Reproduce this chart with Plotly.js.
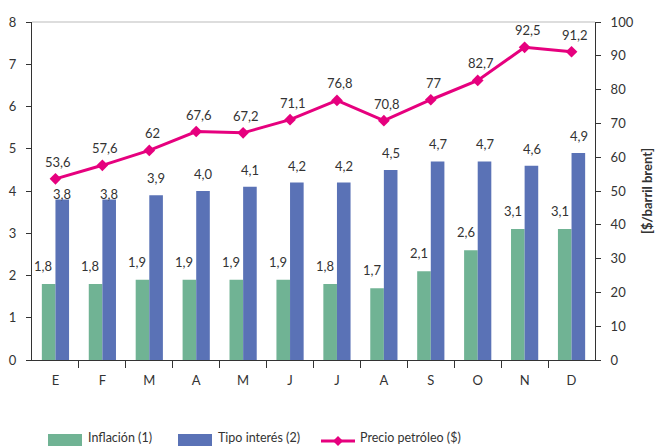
<!DOCTYPE html>
<html>
<head>
<meta charset="utf-8">
<script src="https://cdn.plot.ly/plotly-3.0.1.min.js"></script>
<style>html,body{margin:0;padding:0;background:#fff;}#chart{width:658px;height:447px;}</style>
</head>
<body>
<div id="chart"></div>
<script>
const months = ['E','F','M','A','M','J','J','A','S','O','N','D'];
const inflacion = [1.8,1.8,1.9,1.9,1.9,1.9,1.8,1.7,2.1,2.6,3.1,3.1];
const tipoInteres = [3.8,3.8,3.9,4.0,4.1,4.2,4.2,4.5,4.7,4.7,4.6,4.9];
const petroleo = [53.6,57.6,62,67.6,67.2,71.1,76.8,70.8,77,82.7,92.5,91.2];
const seriesNames = ['Inflación (1)','Tipo interés (2)','Precio petróleo ($)'];

const GREEN = '#70B394', BLUE = '#5A72B6', PINK = '#E6007E', TXT = '#333333';
const FONT = 'Lato, "Open Sans", sans-serif';
const idx = months.map((_, i) => i);
const fmt1 = v => v.toFixed(1).replace('.', ',');
const fmt = v => String(v).replace('.', ',');
// label vertical offsets (px) for the interest-rate labels (first two sit on the bar top)
const blueLabelShift = [5,5,17,17,17,17,17,17,17,17,17,17];

const traces = [
  {type:'bar', x: idx, y: inflacion, name: seriesNames[0], marker:{color:GREEN}, showlegend:false, hoverinfo:'skip'},
  {type:'bar', x: idx, y: tipoInteres, name: seriesNames[1], marker:{color:BLUE}, showlegend:false, hoverinfo:'skip'},
  {type:'scatter', mode:'lines+markers', x: idx, y: petroleo, name: seriesNames[2], yaxis:'y2',
   line:{color:PINK, width:3}, marker:{symbol:'diamond', size:9, color:PINK}, showlegend:false, hoverinfo:'skip'}
];

const lblFont = {family:FONT, size:13, color:TXT};
const annotations = [];
idx.forEach(i => {
  annotations.push({x:i, y:inflacion[i], xref:'x', yref:'y', text:fmt1(inflacion[i]), showarrow:false, xshift:-12, yshift:18, font:lblFont});
  annotations.push({x:i, y:tipoInteres[i], xref:'x', yref:'y', text:fmt1(tipoInteres[i]), showarrow:false, xshift:7, yshift:blueLabelShift[i], font:lblFont});
  annotations.push({x:i, y:petroleo[i], xref:'x', yref:'y2', text:fmt(petroleo[i]), showarrow:false, xshift:3, yshift:17, font:lblFont});
});

// custom legend (pixel -> paper conversion)
const L = 32, R = 595, T = 22, B = 360;
const px = p => (p - L) / (R - L);
const py = p => (B - p) / (B - T);
const lineY = 441;
const shapes = [
  {type:'line', xref:'paper', yref:'paper', x0:0, x1:1, y0:1, y1:1, line:{color:'#BBBBBB', width:1}},
  {type:'rect', xref:'paper', yref:'paper', x0:px(48), x1:px(82), y0:py(446), y1:py(434), fillcolor:GREEN, line:{width:0}},
  {type:'rect', xref:'paper', yref:'paper', x0:px(178), x1:px(212), y0:py(446), y1:py(434), fillcolor:BLUE, line:{width:0}},
  {type:'line', xref:'paper', yref:'paper', x0:px(321), x1:px(355), y0:py(lineY), y1:py(lineY), line:{color:PINK, width:3}},
  {type:'path', xref:'paper', yref:'paper',
   path:`M ${px(338)} ${py(lineY-5)} L ${px(343)} ${py(lineY)} L ${px(338)} ${py(lineY+5)} L ${px(333)} ${py(lineY)} Z`,
   fillcolor:PINK, line:{color:PINK, width:0}}
];
[[87,0],[217,1],[359,2]].forEach(([x,k]) => {
  annotations.push({xref:'paper', yref:'paper', x:px(x), y:py(437.5), xanchor:'left', yanchor:'middle', borderpad:0, text:seriesNames[k], showarrow:false, font:{family:FONT,size:12.5,color:TXT}});
});

const baseAx = {showgrid:false, zeroline:false, linecolor:'#333', linewidth:1, tickcolor:'#333', tickwidth:1};
const layout = {
  width:658, height:447,
  margin:{l:L, r:658-R, t:T, b:447-B, pad:0},
  paper_bgcolor:'#fff', plot_bgcolor:'#fff',
  font:{family:FONT, size:13, color:TXT},
  separators:',.',
  barmode:'group', bargap:0.42, bargroupgap:0,
  showlegend:false,
  xaxis:Object.assign({}, baseAx, {range:[-0.5,11.5], tickmode:'array', tickvals:idx, ticktext:months, ticks:'', showline:true, ticklabelstandoff:8, tickfont:{size:13},
    minor:{tickmode:'array', tickvals:idx.slice(1).map(i=>i-0.5), ticks:'outside', ticklen:7, tickcolor:'#333', tickwidth:1, showgrid:false}}),
  yaxis:Object.assign({}, baseAx, {range:[0,8], dtick:1, ticks:'outside', ticklen:5, showline:true, ticklabelstandoff:7, tickfont:{size:13}}),
  yaxis2:Object.assign({}, baseAx, {overlaying:'y', anchor:'x', side:'right', range:[0,100], dtick:10, ticks:'outside', ticklen:5, showline:true, ticklabelstandoff:7, tickfont:{size:13},
    title:{text:'[$/barril brent]', font:{size:13, color:TXT, family:FONT, weight:'bold'}, standoff:10}}),
  annotations: annotations,
  shapes: shapes
};
Plotly.newPlot('chart', traces, layout, {displayModeBar:false, staticPlot:true});
</script>
</body>
</html>
